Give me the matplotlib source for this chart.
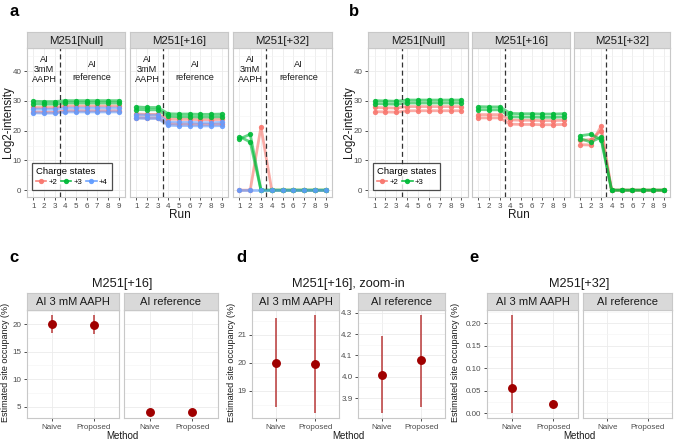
import matplotlib
matplotlib.use('Agg')
import matplotlib.pyplot as plt
from matplotlib.lines import Line2D
import numpy as np

plt.rcParams['font.family'] = ['Liberation Sans', 'DejaVu Sans']

# ---------------- data ----------------
runs = [1, 2, 3, 4, 5, 6, 7, 8, 9]
facet_names = ["M251[Null]", "M251[+16]", "M251[+32]"]
charge_labels = ["+2", "+3", "+4"]

# panel a: lines per charge state per facet
a_null_p2 = [[27.8, 27.8, 27.8, 28.3, 28.3, 28.3, 28.3, 28.3, 28.3],
             [26.3, 26.2, 26.2, 26.7, 26.7, 26.7, 26.7, 26.7, 26.7]]
a_null_p3 = [[29.9, 29.8, 29.8, 30.1, 30.1, 30.1, 30.1, 30.1, 30.1],
             [29.0, 28.9, 28.9, 29.3, 29.3, 29.3, 29.3, 29.3, 29.3]]
a_null_p4 = [[27.3, 27.2, 27.2, 27.6, 27.6, 27.6, 27.6, 27.6, 27.6],
             [26.0, 25.9, 25.9, 26.3, 26.3, 26.3, 26.3, 26.3, 26.3]]
a_p16_p2 = [[25.6, 25.5, 25.5, 23.9, 23.8, 23.8, 23.7, 23.7, 23.8],
            [24.4, 24.3, 24.3, 22.3, 22.2, 22.2, 22.1, 22.1, 22.2]]
a_p16_p3 = [[28.0, 27.8, 27.8, 25.7, 25.6, 25.6, 25.5, 25.5, 25.6],
            [27.1, 27.0, 27.0, 24.8, 24.7, 24.7, 24.6, 24.6, 24.7]]
a_p16_p4 = [[25.3, 25.2, 25.2, 22.9, 22.8, 22.8, 22.7, 22.7, 22.8],
            [24.2, 24.1, 24.1, 21.8, 21.7, 21.7, 21.6, 21.6, 21.7]]
a_p32_p2 = [[0, 0, 21.3, 0, 0, 0, 0, 0, 0]]
a_p32_p3 = [[18.0, 16.2, 0, 0, 0, 0, 0, 0, 0],
            [17.2, 18.8, 0, 0, 0, 0, 0, 0, 0]]
a_p32_p4 = [[0, 0, 0, 0, 0, 0, 0, 0, 0]]

# panel b
b_null_p2 = [[27.8, 27.7, 27.6, 28.1, 28.1, 28.1, 28.1, 28.1, 28.1],
             [26.4, 26.3, 26.2, 26.7, 26.7, 26.7, 26.7, 26.7, 26.7]]
b_null_p3 = [[30.1, 30.0, 29.9, 30.3, 30.3, 30.3, 30.3, 30.3, 30.3],
             [29.1, 29.0, 28.9, 29.3, 29.3, 29.3, 29.3, 29.3, 29.3]]
b_p16_p2 = [[25.4, 25.4, 25.4, 23.6, 23.5, 23.5, 23.4, 23.4, 23.5],
            [24.3, 24.3, 24.3, 22.2, 22.1, 22.1, 22.0, 22.0, 22.1]]
b_p16_p3 = [[28.1, 28.0, 28.0, 25.8, 25.7, 25.7, 25.6, 25.6, 25.7],
            [27.1, 27.0, 27.0, 24.7, 24.6, 24.6, 24.5, 24.5, 24.6]]
b_p32_p2 = [[15.3, 15.2, 21.5, 0, 0, 0, 0, 0, 0],
            [16.8, 17.0, 20.0, 0, 0, 0, 0, 0, 0]]
b_p32_p3 = [[18.3, 18.8, 17.0, 0, 0, 0, 0, 0, 0],
            [17.3, 16.2, 17.8, 0, 0, 0, 0, 0, 0]]

# panels c-e
methods = ["Naive", "Proposed"]
cond_names = ["AI 3 mM AAPH", "AI reference"]
p16_aaph_est = [20.0, 19.95]
p16_aaph_lo = [18.4, 18.2]
p16_aaph_hi = [21.6, 21.7]
p16_ref_est = [4.01, 4.08]
p16_ref_lo = [3.83, 3.86]
p16_ref_hi = [4.19, 4.29]
p32_aaph_est = [0.055, 0.020]
p32_aaph_lo = [0.0, 0.012]
p32_aaph_hi = [0.218, 0.028]

# ---------------- style ----------------
W, H = 675, 441
DPI = 100
fig = plt.figure(figsize=(W / DPI, H / DPI), dpi=DPI)

COL = {"+2": "#F8766D", "+3": "#00BA38", "+4": "#619CFF"}
STRIP_BG = '#D9D9D9'
TICK_LAB = '#4D4D4D'


def rect(x0, y0, x1, y1):
    return [x0 / W, 1 - y1 / H, (x1 - x0) / W, (y1 - y0) / H]


def style_panel(ax):
    ax.set_facecolor('white')
    for s in ax.spines.values():
        s.set_color('#C8C8C8')
        s.set_linewidth(0.8)
    ax.grid(True, which='major', color='#EBEBEB', lw=0.6)
    ax.grid(True, which='minor', color='#F4F4F4', lw=0.4)
    ax.set_axisbelow(True)
    ax.tick_params(which='major', length=2.5, width=0.6, color='#333333',
                   labelsize=5.8, labelcolor=TICK_LAB, pad=1.5)
    ax.tick_params(which='minor', length=0)


def strip(x0, x1, y0, y1, text, fs=8.2):
    s = fig.add_axes(rect(x0, y0, x1, y1))
    s.set_facecolor(STRIP_BG)
    s.set_xticks([])
    s.set_yticks([])
    for sp in s.spines.values():
        sp.set_color('#C8C8C8')
        sp.set_linewidth(0.8)
    s.text(0.5, 0.45, text, ha='center', va='center', fontsize=fs,
           color='#1A1A1A', transform=s.transAxes)
    return s


def draw_lines(ax, groups):
    for charge, lines in groups:
        c = COL[charge]
        for ln in lines:
            ax.plot(runs, ln, color=c, lw=2.0, alpha=0.6, solid_capstyle='butt', zorder=3)
            ax.plot(runs, ln, ls='none', marker='o', ms=3.8, color=c, alpha=0.9, mew=0, zorder=4)


def intensity_row(xs, groups_list, annotate, legend_charges, label, label_x, ylab_x):
    axes = []
    for i, ((x0, x1), name, groups) in enumerate(zip(xs, facet_names, groups_list)):
        ax = fig.add_axes(rect(x0, 48, x1, 197))
        style_panel(ax)
        draw_lines(ax, groups)
        ax.axvline(3.5, color='#333333', lw=0.9, dashes=(4, 2.5), zorder=5)
        ax.set_xlim(0.4, 9.6)
        ax.set_ylim(-2.3, 47.8)
        ax.set_xticks(runs)
        ax.set_yticks([0, 10, 20, 30, 40])
        ax.set_yticks([5, 15, 25, 35, 45], minor=True)
        if i > 0:
            ax.tick_params(axis='y', labelleft=False, length=0)
        if annotate:
            ax.text(2, 40.6, "AI\n3mM\nAAPH", ha='center', va='center', fontsize=6.6,
                    color='#1A1A1A', linespacing=1.2)
            ax.text(6.5, 40.2, "AI\nreference", ha='center', va='center', fontsize=6.6,
                    color='#1A1A1A', linespacing=1.55)
        strip(x0, x1, 32, 48, name)
        axes.append(ax)
    # legend
    handles = [Line2D([0], [0], color=COL[c], lw=1.2, marker='o', ms=2.8, alpha=0.9)
               for c in legend_charges]
    leg = axes[0].legend(handles, legend_charges, title="Charge states", ncol=len(legend_charges),
                         loc='lower left', bbox_to_anchor=(0.05, 0.045), fontsize=5.6,
                         title_fontsize=6.8, frameon=True, fancybox=False, handlelength=1.35,
                         handleheight=1.4, handletextpad=0.3, columnspacing=0.45,
                         borderpad=0.5, labelspacing=0.2, borderaxespad=0)
    leg.get_frame().set_edgecolor('#222222')
    leg.get_frame().set_linewidth(0.9)
    leg._legend_box.align = "left"
    fig.text((xs[0][0] + xs[-1][1]) / 2 / W, 1 - 215 / H, "Run", ha='center', va='center',
             fontsize=8.5, color='#1A1A1A')
    fig.text(ylab_x / W, 1 - 122 / H, "Log2-intensity", ha='center', va='center',
             rotation=90, fontsize=8.3, color='#1A1A1A')
    fig.text(label_x / W, 1 - 11 / H, label, ha='center', va='center', fontsize=12,
             fontweight='bold')


intensity_row([(27, 125), (130, 228), (233, 332)],
              [[("+2", a_null_p2), ("+3", a_null_p3), ("+4", a_null_p4)],
               [("+2", a_p16_p2), ("+3", a_p16_p3), ("+4", a_p16_p4)],
               [("+2", a_p32_p2), ("+3", a_p32_p3), ("+4", a_p32_p4)]],
              True, ["+2", "+3", "+4"], "a", 14, 8)

intensity_row([(368, 468), (472, 570), (574, 670)],
              [[("+2", b_null_p2), ("+3", b_null_p3)],
               [("+2", b_p16_p2), ("+3", b_p16_p3)],
               [("+2", b_p32_p2), ("+3", b_p32_p3)]],
              False, ["+2", "+3"], "b", 354, 349)


def expand(vals):
    lo, hi = min(vals), max(vals)
    d = (hi - lo) * 0.05
    return lo - d, hi + d


def occ_axes(x0, x1, ylim, est, lo, hi, majors, minors, fmt, show_y, cond):
    ax = fig.add_axes(rect(x0, 310, x1, 418))
    style_panel(ax)
    xpos = np.arange(len(methods))
    if est is not None:
        ax.vlines(xpos, lo, hi, color='#B22222', lw=1.4, alpha=0.7, zorder=3)
        ax.plot(xpos, est, 'o', color='#A00000', ms=5.4, zorder=4)
    ax.set_xlim(-0.6, 1.6)
    ax.set_ylim(*ylim)
    ax.set_xticks(xpos)
    ax.set_xticklabels(methods)
    ax.set_yticks(majors)
    ax.set_yticklabels([fmt.format(v) for v in majors])
    ax.set_yticks(minors, minor=True)
    if not show_y:
        ax.tick_params(axis='y', labelleft=False, length=0)
    strip(x0, x1, 293, 310, cond, fs=8)
    return ax


def occ_titles(xa, xb, title, label, ylab_x):
    cx = (xa + xb) / 2 / W
    fig.text(cx, 1 - 284 / H, title, ha='center', va='center', fontsize=9.2, color='#1A1A1A')
    fig.text(cx, 1 - 436 / H, "Method", ha='center', va='center', fontsize=7, color='#1A1A1A')
    fig.text(ylab_x / W, 1 - 362 / H, "Estimated site occupancy (%)", ha='center',
             va='center', rotation=90, fontsize=6.5, color='#1A1A1A')
    fig.text(label_xs[label] / W, 1 - 257 / H, label, ha='center', va='center',
             fontsize=12, fontweight='bold')


label_xs = {"c": 14, "d": 241, "e": 474}

# panel c (shared y)
ylim_c = expand(p16_aaph_lo + p16_aaph_hi + p16_ref_lo + p16_ref_hi)
occ_axes(27, 119, ylim_c, p16_aaph_est, p16_aaph_lo, p16_aaph_hi,
         [5, 10, 15, 20], [7.5, 12.5, 17.5, 22.5], "{:g}", True, cond_names[0])
occ_axes(124, 218, ylim_c, p16_ref_est, p16_ref_lo, p16_ref_hi,
         [5, 10, 15, 20], [7.5, 12.5, 17.5, 22.5], "{:g}", False, cond_names[1])
occ_titles(27, 218, "M251[+16]", "c", 6)

# panel d (free y)
occ_axes(252, 339, expand(p16_aaph_lo + p16_aaph_hi), p16_aaph_est, p16_aaph_lo, p16_aaph_hi,
         [19, 20, 21], [18.5, 19.5, 20.5, 21.5], "{:g}", True, cond_names[0])
occ_axes(358, 445, expand(p16_ref_lo + p16_ref_hi), p16_ref_est, p16_ref_lo, p16_ref_hi,
         [3.9, 4.0, 4.1, 4.2, 4.3], [3.85, 3.95, 4.05, 4.15, 4.25], "{:.1f}", True, cond_names[1])
occ_titles(252, 445, "M251[+16], zoom-in", "d", 231)

# panel e (shared y)
ylim_e = expand(p32_aaph_lo + p32_aaph_hi)
occ_axes(487, 578, ylim_e, p32_aaph_est, p32_aaph_lo, p32_aaph_hi,
         [0, 0.05, 0.10, 0.15, 0.20], [0.025, 0.075, 0.125, 0.175, 0.225], "{:.2f}", True,
         cond_names[0])
occ_axes(583, 672, ylim_e, None, None, None,
         [0, 0.05, 0.10, 0.15, 0.20], [0.025, 0.075, 0.125, 0.175, 0.225], "{:.2f}", False,
         cond_names[1])
occ_titles(487, 672, "M251[+32]", "e", 456)

fig.savefig("out.png", dpi=DPI, facecolor='white')
